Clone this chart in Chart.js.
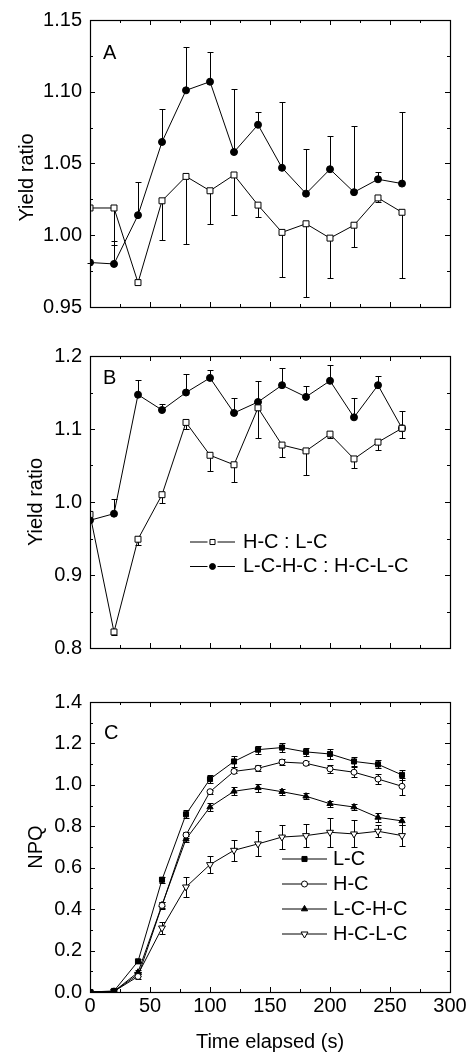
<!DOCTYPE html>
<html>
<head>
<meta charset="utf-8">
<script src="https://cdn.jsdelivr.net/npm/chart.js@4/dist/chart.umd.min.js"></script>
<style>
  body { margin: 0; background: #fff; }
  .panel { position: absolute; left: 0; width: 470px; }
</style>
</head>
<body>
<div class="panel" style="top:0;height:330px"><canvas id="chartA"></canvas></div>
<div class="panel" style="top:330px;height:340px"><canvas id="chartB"></canvas></div>
<div class="panel" style="top:670px;height:384px"><canvas id="chartC"></canvas></div>
<script>
// time points (s)
const times = [0, 20, 40, 60, 80, 100, 120, 140, 160, 180, 200, 220, 240, 260];
const xTicks = [0, 50, 100, 150, 200, 250, 300];

const labelsAB = ['H-C : L-C', 'L-C-H-C : H-C-L-C'];
const labelsC = ['L-C', 'H-C', 'L-C-H-C', 'H-C-L-C'];

// panel A - yield ratio
const yTicksA = [0.95, 1.00, 1.05, 1.10, 1.15];
const ratioA1 = [1.019, 1.019, 0.967, 1.024, 1.041, 1.031, 1.042, 1.021, 1.002, 1.008, 0.998, 1.007, 1.026, 1.016];
const ratioA1Err = [0.038, 0.026, 0, 0.027, 0.047, 0.023, 0.028, 0.008, 0.031, 0.051, 0.028, 0.015, 0.003, 0.046];
const ratioA2 = [0.981, 0.980, 1.014, 1.065, 1.101, 1.107, 1.058, 1.077, 1.047, 1.029, 1.046, 1.030, 1.039, 1.036];
const ratioA2Err = [0, 0.016, 0.023, 0.023, 0.030, 0.021, 0.044, 0.009, 0.046, 0.031, 0.023, 0.046, 0.005, 0.050];

// panel B - yield ratio
const yTicksB = [0.8, 0.9, 1.0, 1.1, 1.2];
const ratioB1 = [0.983, 0.822, 0.949, 1.010, 1.109, 1.064, 1.051, 1.129, 1.078, 1.070, 1.093, 1.059, 1.082, 1.101];
const ratioB1Err = [0, 0.004, 0.008, 0.012, 0.009, 0.022, 0.023, 0.041, 0.017, 0.033, 0.006, 0.013, 0.011, 0.014];
const ratioB2 = [0.975, 0.984, 1.147, 1.126, 1.150, 1.170, 1.122, 1.137, 1.160, 1.144, 1.166, 1.116, 1.160, 1.101];
const ratioB2Err = [0, 0.020, 0.020, 0.008, 0.026, 0.011, 0.021, 0.029, 0.024, 0.015, 0.022, 0.026, 0.013, 0.024];

// panel C - NPQ
const yTicksC = [0, 0.2, 0.4, 0.6, 0.8, 1.0, 1.2, 1.4];
const npqLC = [0, 0.005, 0.148, 0.542, 0.858, 1.028, 1.113, 1.170, 1.180, 1.159, 1.149, 1.113, 1.099, 1.048];
const npqLCErr = [0, 0, 0.01, 0.015, 0.02, 0.02, 0.025, 0.02, 0.02, 0.02, 0.025, 0.02, 0.02, 0.025];
const npqHC = [0, 0.003, 0.075, 0.418, 0.758, 0.967, 1.065, 1.080, 1.110, 1.104, 1.077, 1.061, 1.028, 0.993];
const npqHCErr = [0, 0, 0.01, 0.015, 0.015, 0.01, 0.01, 0.015, 0.015, 0.01, 0.02, 0.025, 0.025, 0.04];
const npqLCHC = [0, 0.003, 0.095, 0.420, 0.738, 0.893, 0.969, 0.986, 0.967, 0.945, 0.909, 0.893, 0.843, 0.826];
const npqLCHCErr = [0, 0, 0.01, 0.015, 0.015, 0.02, 0.02, 0.02, 0.015, 0.015, 0.015, 0.015, 0.02, 0.02];
const npqHCLC = [0, 0.003, 0.085, 0.309, 0.507, 0.615, 0.684, 0.715, 0.748, 0.755, 0.771, 0.763, 0.776, 0.755];
const npqHCLCErr = [0, 0, 0.01, 0.03, 0.05, 0.04, 0.05, 0.06, 0.06, 0.055, 0.07, 0.065, 0.03, 0.05];

Chart.defaults.font.family = '"Liberation Sans", Arial, sans-serif';
Chart.defaults.font.size = 20;
Chart.defaults.color = '#000';

const pts = vals => times.map((t, i) => ({ x: t, y: vals[i] }));

// box round the plot with inward ticks on all four sides
const frameTicks = {
  id: 'frameTicks',
  afterDatasetsDraw(chart) {
    const { ctx, chartArea: a, scales } = chart;
    const marks = scale => {
      const vals = scale.ticks.map(t => t.value);
      const out = [];
      vals.forEach((v, i) => {
        out.push([v, 5]);
        if (i < vals.length - 1) out.push([(v + vals[i + 1]) / 2, 3]);
      });
      return out;
    };
    ctx.save();
    ctx.strokeStyle = '#000';
    ctx.lineWidth = 1.2;
    ctx.strokeRect(a.left + 0.5, a.top + 0.5, a.right - a.left, a.bottom - a.top);
    ctx.lineWidth = 1;
    ctx.beginPath();
    marks(scales.x).forEach(([v, len]) => {
      const px = Math.round(scales.x.getPixelForValue(v)) + 0.5;
      ctx.moveTo(px, a.bottom); ctx.lineTo(px, a.bottom - len);
      ctx.moveTo(px, a.top); ctx.lineTo(px, a.top + len);
    });
    marks(scales.y).forEach(([v, len]) => {
      const py = Math.round(scales.y.getPixelForValue(v)) + 0.5;
      ctx.moveTo(a.left, py); ctx.lineTo(a.left + len, py);
      ctx.moveTo(a.right, py); ctx.lineTo(a.right - len, py);
    });
    ctx.stroke();
    ctx.restore();
  }
};

const errorBars = {
  id: 'errorBars',
  beforeDatasetsDraw(chart) {
    const { ctx, scales: { y } } = chart;
    ctx.save();
    ctx.strokeStyle = '#000';
    ctx.lineWidth = 1;
    chart.data.datasets.forEach((ds, i) => {
      chart.getDatasetMeta(i).data.forEach((pt, j) => {
        const v = ds.data[j].y;
        const up = ds.errUp ? ds.errUp[j] : 0;
        const dn = ds.errDown ? ds.errDown[j] : 0;
        if (!up && !dn) return;
        const x = Math.round(pt.x) + 0.5;
        const yTop = Math.round(y.getPixelForValue(v + up)) + 0.5;
        const yBot = Math.round(y.getPixelForValue(v - dn)) + 0.5;
        ctx.beginPath();
        ctx.moveTo(x, yTop); ctx.lineTo(x, yBot);
        if (up) { ctx.moveTo(x - 3, yTop); ctx.lineTo(x + 3, yTop); }
        if (dn) { ctx.moveTo(x - 3, yBot); ctx.lineTo(x + 3, yBot); }
        ctx.stroke();
      });
    });
    ctx.restore();
  }
};

const insetLegend = {
  id: 'insetLegend',
  afterDatasetsDraw(chart, args, opts) {
    if (!opts || !opts.show) return;
    const { ctx, chartArea: a } = chart;
    ctx.save();
    ctx.font = '20px "Liberation Sans", Arial, sans-serif';
    ctx.textBaseline = 'middle';
    chart.data.datasets.forEach((ds, i) => {
      const y0 = a.top + opts.top + i * opts.rowHeight;
      const x0 = a.left + opts.left;
      const xm = x0 + opts.lineLength / 2;
      ctx.strokeStyle = '#000';
      ctx.lineWidth = 1;
      ctx.beginPath();
      if (opts.gap) {
        ctx.moveTo(x0, y0); ctx.lineTo(xm - opts.gap, y0);
        ctx.moveTo(xm + opts.gap, y0); ctx.lineTo(x0 + opts.lineLength, y0);
      } else {
        ctx.moveTo(x0, y0); ctx.lineTo(x0 + opts.lineLength, y0);
      }
      ctx.stroke();
      ctx.fillStyle = ds.pointBackgroundColor;
      ctx.strokeStyle = ds.pointBorderColor;
      Chart.helpers.drawPoint(ctx, {
        pointStyle: ds.pointStyle,
        rotation: ds.pointRotation || 0,
        radius: ds.pointRadius * opts.markerScale,
        borderWidth: 1
      }, xm, y0);
      ctx.fillStyle = '#000';
      ctx.fillText(ds.label, x0 + opts.lineLength + opts.textGap, y0);
    });
    ctx.restore();
  }
};

const panelLetter = {
  id: 'panelLetter',
  afterDatasetsDraw(chart, args, opts) {
    const { ctx, chartArea: a } = chart;
    ctx.save();
    ctx.font = '20px "Liberation Sans", Arial, sans-serif';
    ctx.textBaseline = 'middle';
    ctx.fillStyle = '#000';
    ctx.fillText(opts.text, a.left + opts.left, a.top + opts.top);
    ctx.restore();
  }
};

function series(label, vals, style, opts) {
  return Object.assign({
    label: label,
    data: pts(vals),
    borderColor: '#000',
    borderWidth: 1,
    pointStyle: style,
    pointBorderColor: '#000',
    pointBorderWidth: 1,
    tension: 0,
    clip: { left: 0, top: 10, right: 10, bottom: 10 }
  }, opts);
}

function scales(yTicks, decimals, yTitle, titlePad, showX) {
  return {
    x: {
      type: 'linear',
      min: xTicks[0],
      max: xTicks[xTicks.length - 1],
      afterBuildTicks: s => { s.ticks = xTicks.map(v => ({ value: v })); },
      ticks: { display: showX, padding: 2, maxRotation: 0, autoSkip: false },
      grid: { display: false, drawTicks: false },
      border: { display: false },
      title: { display: showX, text: 'Time elapsed (s)', padding: 0 },
      afterFit: s => { s.height = showX ? 62 : 0; }
    },
    y: {
      type: 'linear',
      min: yTicks[0],
      max: yTicks[yTicks.length - 1],
      afterBuildTicks: s => { s.ticks = yTicks.map(v => ({ value: v })); },
      ticks: { padding: 8, callback: v => Number(v).toFixed(decimals) },
      grid: { display: false, drawTicks: false },
      border: { display: false },
      title: { display: true, text: yTitle, padding: { top: titlePad, bottom: 0 } },
      afterFit: s => { s.width = 90; }
    }
  };
}

function baseOptions(padding, sc, letter, legend) {
  return {
    responsive: true,
    maintainAspectRatio: false,
    animation: false,
    events: [],
    layout: { padding: padding },
    scales: sc,
    plugins: {
      legend: { display: false },
      tooltip: { enabled: false },
      panelLetter: letter,
      insetLegend: legend || { show: false }
    }
  };
}

const plugins = [errorBars, frameTicks, insetLegend, panelLetter];

new Chart(document.getElementById('chartA'), {
  type: 'line',
  data: {
    datasets: [
      series(labelsAB[0], ratioA1, 'rect', { pointRadius: 4.2, pointBackgroundColor: '#fff', errDown: ratioA1Err }),
      series(labelsAB[1], ratioA2, 'circle', { pointRadius: 3.5, pointBackgroundColor: '#000', errUp: ratioA2Err })
    ]
  },
  options: baseOptions({ top: 16, right: 20, bottom: 23, left: 0 },
    scales(yTicksA, 2, 'Yield ratio     ', 15, false),
    { text: 'A', left: 13, top: 33 }),
  plugins: plugins
});

new Chart(document.getElementById('chartB'), {
  type: 'line',
  data: {
    datasets: [
      series(labelsAB[0], ratioB1, 'rect', { pointRadius: 4.2, pointBackgroundColor: '#fff', errDown: ratioB1Err }),
      series(labelsAB[1], ratioB2, 'circle', { pointRadius: 3.5, pointBackgroundColor: '#000', errUp: ratioB2Err })
    ]
  },
  options: baseOptions({ top: 26, right: 20, bottom: 22, left: 0 },
    scales(yTicksB, 1, 'Yield ratio', 24, false),
    { text: 'B', left: 13, top: 22 },
    { show: true, left: 100, top: 186, rowHeight: 24.5, lineLength: 45, textGap: 8, gap: 5, markerScale: 0.85 }),
  plugins: plugins
});

const clipC = { left: 0, top: 10, right: 10, bottom: 0 };
new Chart(document.getElementById('chartC'), {
  type: 'line',
  data: {
    datasets: [
      series(labelsC[0], npqLC, 'rect', { pointRadius: 3.6, pointBackgroundColor: '#000', errUp: npqLCErr, errDown: npqLCErr, clip: clipC }),
      series(labelsC[1], npqHC, 'circle', { pointRadius: 3, pointBackgroundColor: '#fff', errUp: npqHCErr, errDown: npqHCErr, clip: clipC }),
      series(labelsC[2], npqLCHC, 'triangle', { pointRadius: 3.6, pointBackgroundColor: '#000', errUp: npqLCHCErr, errDown: npqLCHCErr, clip: clipC }),
      series(labelsC[3], npqHCLC, 'triangle', { pointRadius: 4, pointRotation: 180, pointBackgroundColor: '#fff', errUp: npqHCLCErr, errDown: npqHCLCErr, clip: clipC })
    ]
  },
  options: baseOptions({ top: 32, right: 20, bottom: 0, left: 0 },
    scales(yTicksC, 1, 'NPQ', 24, true),
    { text: 'C', left: 14, top: 31 },
    { show: true, left: 192, top: 157, rowHeight: 25, lineLength: 45, textGap: 6, gap: 0, markerScale: 1 }),
  plugins: plugins
});
</script>
</body>
</html>
